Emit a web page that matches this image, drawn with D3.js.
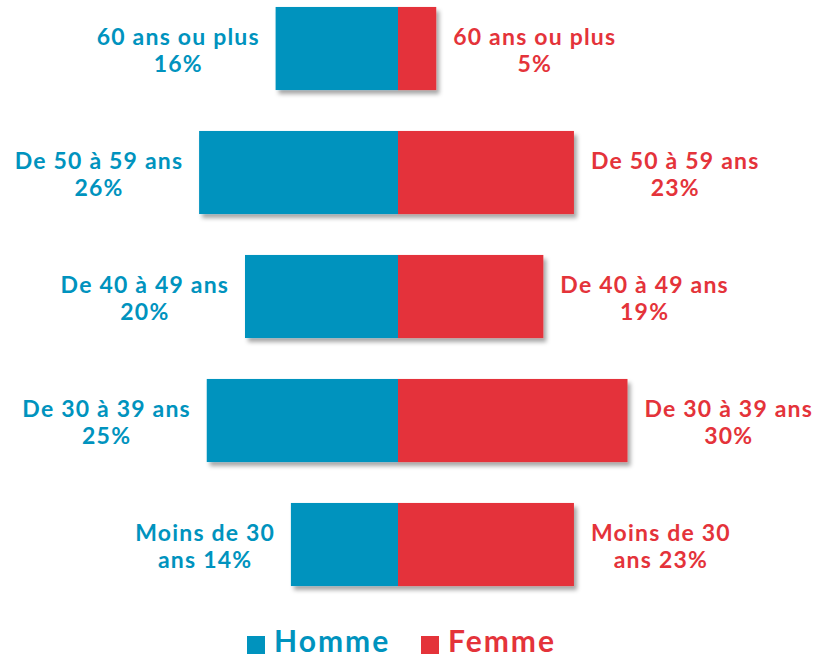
<!DOCTYPE html>
<html><head><meta charset="utf-8">
<script src="https://cdn.jsdelivr.net/npm/d3@7"></script>
<style>body{margin:0;background:#fff}svg{display:block}text{font-family:Lato,"Liberation Sans",sans-serif;font-weight:700}</style>
</head><body>
<svg id="c" width="815" height="658"></svg>
<script>
const categories = ["60 ans ou plus", "De 50 à 59 ans", "De 40 à 49 ans", "De 30 à 39 ans", "Moins de 30 ans"];
const labelLines = [["60 ans ou plus"], ["De 50 à 59 ans"], ["De 40 à 49 ans"], ["De 30 à 39 ans"], ["Moins de 30", "ans"]];
const homme = [16, 26, 20, 25, 14];
const femme = [5, 23, 19, 30, 23];
const series = ["Homme", "Femme"];
const colors = {Homme: "#0093BE", Femme: "#E4333A"};

const svg = d3.select("#c");
const cx = 398;
const defs = svg.append("defs");
const f = defs.append("filter").attr("id","sh").attr("x","-10%").attr("y","-10%").attr("width","130%").attr("height","140%");
f.append("feDropShadow").attr("dx",3).attr("dy",4).attr("stdDeviation",2).attr("flood-color","#000").attr("flood-opacity",0.35);

const y = d3.scaleBand().domain(categories).range([-13.5, 606.5]).paddingInner(0.33).paddingOuter(0.165);
const x = d3.scaleLinear().domain([0, 30]).range([0, 229.5]);

const rows = categories.map((c,i)=>({c, i, h: homme[i], f: femme[i]}));
const g = svg.append("g");
const row = g.selectAll("g.row").data(rows).join("g").attr("class","row");
row.append("g").attr("filter","url(#sh)").each(function(d){
  const s = d3.select(this);
  s.append("rect").attr("x", cx - x(d.h)).attr("y", y(d.c)).attr("width", x(d.h)).attr("height", y.bandwidth()).attr("fill", colors.Homme);
  s.append("rect").attr("x", cx).attr("y", y(d.c)).attr("width", x(d.f)).attr("height", y.bandwidth()).attr("fill", colors.Femme);
});

const fs = 23, ls = 1.2, gap = 17;
row.each(function(d){
  const s = d3.select(this);
  const mid = y(d.c) + y.bandwidth()/2;
  const lines = labelLines[d.i];
  const build = (side, val) => {
    let l = lines.slice();
    if (l.length === 1) l = [l[0], val + "%"]; else l = [l[0], l[1] + " " + val + "%"];
    const t = s.append("text").attr("font-size", fs).attr("letter-spacing", ls).attr("fill", colors[side]).attr("text-anchor","middle");
    l.forEach((ln, k) => t.append("tspan").text(ln).attr("y", mid - 4 + k*27.5));
    let w = 0; t.selectAll("tspan").each(function(){ w = Math.max(w, this.getComputedTextLength()); });
    w -= ls;
    const edge = side === "Homme" ? cx - x(val) - gap - w/2 : cx + x(val) + gap + w/2;
    t.selectAll("tspan").attr("x", edge + ls/2);
  };
  build("Homme", d.h);
  build("Femme", d.f);
});

const lg = svg.append("g");
const lx = [247, 421], tx = [274, 448];
series.forEach((s, i) => {
  lg.append("rect").attr("x", lx[i]).attr("y", 636).attr("width", 18).attr("height", 18).attr("fill", colors[s]);
  lg.append("text").attr("x", tx[i]).attr("y", 652).attr("font-size", 30).attr("letter-spacing", 2).attr("fill", colors[s]).text(s);
});
</script>
</body></html>
